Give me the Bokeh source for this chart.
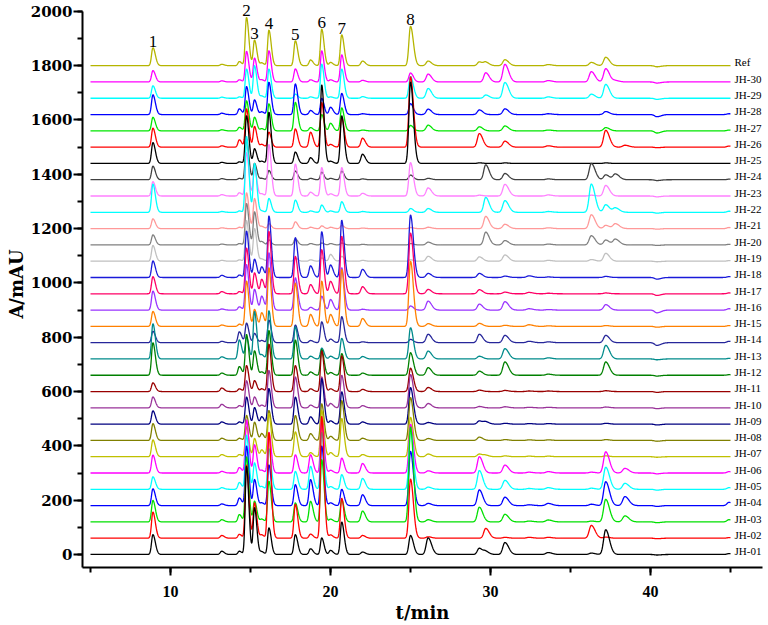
import numpy as np
from bokeh.plotting import figure
from bokeh.models import ColumnDataSource, Range1d, SingleIntervalTicker, LabelSet
from bokeh.embed import file_html
from bokeh.resources import INLINE

# ---------------- data ----------------
# retention times (min) of the peaks used to rebuild every chromatogram
peak_times = [8.9, 13.2, 14.3, 14.75, 15.25, 15.7, 16.15, 17.8, 18.75, 19.45, 20.0, 20.7, 22.0,
              25.0, 26.1, 29.3, 29.7, 30.9, 32.4, 33.6, 36.3, 37.2, 37.8, 38.4, 40.4, 44.9]
peak_widths = [0.085, 0.09, 0.085, 0.08, 0.08, 0.085, 0.08, 0.085, 0.09, 0.08, 0.09, 0.085, 0.1,
               0.1, 0.12, 0.12, 0.12, 0.13, 0.14, 0.14, 0.13, 0.13, 0.14, 0.14, 0.14, 0.12]
peak_tailing = 1.8
labelled_peak_index = [0, 3, 4, 6, 7, 9, 11, 13]
peak_numbers = ["1", "2", "3", "4", "5", "6", "7", "8"]

sample_names = ["JH-01", "JH-02", "JH-03", "JH-04", "JH-05", "JH-06", "JH-07", "JH-08", "JH-09", "JH-10",
                "JH-11", "JH-12", "JH-13", "JH-14", "JH-15", "JH-16", "JH-17", "JH-18", "JH-19", "JH-20",
                "JH-21", "JH-22", "JH-23", "JH-24", "JH-25", "JH-26", "JH-27", "JH-28", "JH-29", "JH-30", "Ref"]
offset_step = 60  # mAU between stacked traces

# peak heights (mAU) per sample, in the order of peak_times
h_jh01 = [73, 12, 12, 325, 172, 10, 98, 73, 21, 61, 15, 120, 9, 70, 61, 23, 10, 44, 0, 7, 5, 91, 0, 0, -2, 3]
h_jh02 = [96, 10, 14, 270, 130, 12, 390, 125, 15, 450, 12, 147, 10, 218, 5, 0, 36, 3, 3, 3, 47, 4, 0, 0, -2, 2]
h_jh03 = [79, 8, 27, 240, 76, 10, 150, 70, 76, 230, 10, 82, 40, 350, 8, 54, 0, 28, 3, 7, 3, 83, 0, 22, -3, 8]
h_jh04 = [62, 6, 28, 220, 96, 10, 150, 77, 96, 220, 10, 60, 40, 200, 8, 58, 0, 31, 3, 8, 5, 88, 0, 33, -3, 12]
h_jh05 = [46, 6, 25, 200, 97, 10, 150, 66, 85, 210, 10, 54, 40, 215, 8, 69, 0, 33, 3, 6, 4, 81, 0, 22, -3, 6]
h_jh06 = [66, 6, 20, 196, 104, 10, 150, 67, 67, 200, 10, 55, 35, 180, 8, 60, 0, 29, 3, 5, 3, 78, 0, 17, -3, 5]
h_jh07 = [62, 8, 8, 110, 67, 25, 160, 92, 15, 171, 15, 141, 8, 145, 10, 10, 5, 3, 2, 2, 0, 3, 0, 0, -2, 0]
h_jh08 = [62, 8, 8, 92, 67, 25, 110, 92, 25, 135, 15, 147, 8, 158, 7, 12, 0, 3, 2, 2, 0, 3, 0, 0, -3, 0]
h_jh09 = [49, 8, 8, 100, 61, 27, 131, 100, 27, 168, 12, 119, 8, 135, 6, 12, 8, 3, 2, 2, 0, 3, 0, 0, -3, 0]
h_jh10 = [40, 13, 8, 100, 40, 10, 138, 114, 10, 114, 16, 120, 8, 123, 16, 5, 0, 4, 2, 2, 0, 3, 0, 0, -3, 0]
h_jh11 = [32, 13, 10, 96, 40, 10, 175, 96, 10, 150, 10, 132, 8, 86, 15, 5, 0, 4, 2, 2, 0, 3, 0, 0, -3, 0]
h_jh12 = [120, 8, 32, 150, 90, 12, 165, 130, 12, 95, 10, 80, 8, 83, 28, 15, 0, 49, 0, 4, 0, 49, 0, 0, -3, 2]
h_jh13 = [130, 8, 70, 80, 175, 15, 178, 119, 10, 40, 10, 76, 9, 115, 29, 10, 0, 38, 0, 4, 0, 50, 0, 0, -3, 2]
h_jh14 = [42, 5, 40, 72, 34, 8, 83, 65, 8, 77, 13, 96, 3, 12, 31, 31, 0, 27, 5, 3, 0, 27, 0, 0, -10, 5]
h_jh15 = [55, 5, 8, 167, 62, 50, 216, 160, 44, 167, 44, 210, 29, 240, 10, 11, 0, 4, 6, 2, 0, 3, 0, 0, -3, 3]
h_jh16 = [70, 4, 12, 168, 76, 51, 211, 119, 10, 51, 39, 156, 3, 15, 33, 22, 0, 31, 5, 2, 0, 20, 0, 0, -10, 5]
h_jh17 = [63, 8, 8, 169, 77, 53, 230, 138, 34, 163, 46, 212, 26, 224, 16, 15, 0, 6, 5, 2, 0, 3, 0, 0, -6, 3]
h_jh18 = [61, 8, 9, 171, 67, 39, 227, 147, 43, 169, 46, 211, 30, 230, 15, 15, 0, 5, 6, 2, 0, 4, 0, 0, -6, 3]
h_jh19 = [58, 3, 5, 150, 120, 8, 15, 12, 5, 12, 25, 18, 3, 5, 18, 16, 0, 23, 0, 3, 6, 29, 0, 0, -2, 2]
h_jh20 = [37, 3, 5, 153, 122, 12, 18, 22, 5, 7, 5, 7, 2, 5, 10, 0, 47, 16, 0, 3, 34, 18, 21, 0, -2, 2]
h_jh21 = [36, 3, 5, 132, 111, 8, 18, 25, 5, 10, 5, 12, 2, 4, 5, 0, 45, 16, 0, 3, 51, 12, 18, 0, -2, 4]
h_jh22 = [104, 3, 5, 280, 180, 5, 51, 45, 5, 27, 5, 39, 3, 14, 14, 0, 55, 43, 0, 3, 104, 28, 16, 0, -3, 4]
h_jh23 = [53, 5, 12, 160, 100, 8, 190, 118, 14, 105, 8, 105, 10, 123, 30, 3, 0, 43, 0, 4, 3, 39, 0, 0, -3, 0]
h_jh24 = [50, 4, 5, 150, 60, 5, 34, 32, 5, 28, 5, 32, 3, 17, 5, 0, 55, 23, 0, 3, 60, 18, 21, 0, -3, 2]
h_jh25 = [77, 4, 6, 176, 54, 8, 189, 42, 21, 290, 8, 176, 34, 300, 0, 2, 0, 2, 0, 0, 0, 2, 0, 0, 0, 0]
h_jh26 = [70, 5, 27, 141, 76, 10, 55, 67, 55, 165, 10, 110, 33, 260, 0, 50, 0, 22, 0, 5, 0, 62, 0, 7, -2, 4]
h_jh27 = [50, 4, 13, 111, 50, 8, 100, 105, 12, 60, 28, 85, 3, 20, 21, 15, 0, 18, 0, 3, 0, 12, 0, 0, -8, 3]
h_jh28 = [73, 5, 21, 103, 54, 10, 119, 113, 15, 60, 27, 78, 3, 40, 20, 17, 0, 21, 0, 3, 0, 11, 0, 0, -8, 3]
h_jh29 = [46, 4, 5, 108, 120, 8, 108, 15, 5, 126, 5, 108, 6, 80, 36, 0, 12, 58, 0, 5, 15, 51, 0, 0, -4, 0]
h_jh30 = [42, 4, 8, 113, 88, 8, 115, 48, 8, 115, 8, 100, 6, 33, 29, 0, 34, 65, 0, 5, 38, 49, 5, 0, -4, 0]
h_ref = [66, 5, 15, 178, 94, 10, 131, 92, 21, 135, 12, 114, 17, 145, 17, 14, 12, 22, 0, 4, 12, 31, 0, 0, -4, 0]

heights = [h_jh01, h_jh02, h_jh03, h_jh04, h_jh05, h_jh06, h_jh07, h_jh08, h_jh09, h_jh10,
           h_jh11, h_jh12, h_jh13, h_jh14, h_jh15, h_jh16, h_jh17, h_jh18, h_jh19, h_jh20,
           h_jh21, h_jh22, h_jh23, h_jh24, h_jh25, h_jh26, h_jh27, h_jh28, h_jh29, h_jh30, h_ref]

colors = ["#000000", "#ff0000", "#00e000", "#0000ff", "#00ffff", "#ff00ff", "#c0c000", "#808000",
          "#000080", "#993399", "#990000", "#008000", "#008b8b", "#26269a", "#ff8000", "#9933ff",
          "#ff0066", "#1a1ad9", "#c0c0c0", "#808080", "#ff9999", "#00ffff", "#ff80ff", "#404040",
          "#000000", "#ff0000", "#00e600", "#0000ff", "#00ffff", "#ff00ff", "#b5b500"]

t_start, t_end, t_step = 5.0, 45.0, 0.02
y_axis_top = 2000

# ---------------- build chromatograms ----------------
t = np.round(np.arange(t_start, t_end + t_step / 2, t_step), 4)


def chromatogram(h):
    y = np.zeros_like(t)
    for rt, w, a in zip(peak_times, peak_widths, h):
        s = np.where(t < rt, w, w * peak_tailing)
        y += a * np.exp(-0.5 * ((t - rt) / s) ** 2)
    return y


data = {"t": t}
for i, (name, h) in enumerate(zip(sample_names, heights)):
    data[name] = chromatogram(h) + i * offset_step
src = ColumnDataSource(data)

# ---------------- figure ----------------
X0, X1 = 4.5, 47.0
Y0, Y1 = -48.0, 2040.0
W, H = 768, 625
BL, BR, BT, BB = 82, 6, 0, 57

p = figure(width=W, height=H, x_range=Range1d(X0, X1), y_range=Range1d(Y0, Y1),
           output_backend="svg", toolbar_location=None,
           min_border_left=BL, min_border_right=BR, min_border_top=BT, min_border_bottom=BB)
p.outline_line_color = None
p.xgrid.visible = False
p.ygrid.visible = False
p.background_fill_color = "white"

for i in reversed(range(len(sample_names))):
    p.line("t", sample_names[i], source=src, line_color=colors[i], line_width=1.3)

# axes
p.xaxis.ticker = SingleIntervalTicker(interval=10, num_minor_ticks=2)
p.yaxis.ticker = SingleIntervalTicker(interval=200, num_minor_ticks=2)
p.yaxis.bounds = (Y0, y_axis_top)
for ax in (p.xaxis[0], p.yaxis[0]):
    ax.axis_line_width = 2
    ax.major_tick_line_width = 2
    ax.minor_tick_line_width = 2
    ax.major_tick_in = 0
    ax.minor_tick_in = 0
    ax.minor_tick_out = 5
    ax.major_label_text_font_style = "bold"
    ax.major_label_text_color = "black"
    ax.axis_label_text_font = "DejaVu Serif"
    ax.axis_label_text_font_style = "bold"
    ax.axis_label_text_font_size = "18px"
    ax.axis_label_text_color = "black"
p.xaxis.major_tick_out = 8
p.yaxis.major_tick_out = 9
p.xaxis.major_label_text_font = "Liberation Serif"
p.xaxis.major_label_text_font_size = "16px"
p.xaxis.major_label_standoff = 10
p.yaxis.major_label_text_font = "DejaVu Serif"
p.yaxis.major_label_text_font_size = "15px"
p.yaxis.major_label_standoff = 1
p.xaxis.axis_label = "t/min"
p.xaxis.axis_label_standoff = 2
p.yaxis.axis_label = "A/mAU"
p.yaxis.axis_label_standoff = 1

# sample names at the right end of each trace
name_src = ColumnDataSource(dict(
    x=[45.25] * len(sample_names),
    y=[i * offset_step + 12 for i in range(len(sample_names))],
    text=sample_names))
p.add_layout(LabelSet(x="x", y="y", text="text", source=name_src, text_font="DejaVu Serif",
                      text_font_size="11px", text_baseline="middle", text_align="left",
                      text_color="black"))

# peak numbers above the reference trace
ref_i = len(sample_names) - 1
pk_src = ColumnDataSource(dict(
    x=[peak_times[k] for k in labelled_peak_index],
    y=[ref_i * offset_step + h_ref[k] + 4 for k in labelled_peak_index],
    text=peak_numbers))
p.add_layout(LabelSet(x="x", y="y", text="text", source=pk_src, text_font="Liberation Serif",
                      text_font_size="17px", text_baseline="bottom", text_align="center",
                      text_color="black"))

open("out.html", "w").write(file_html(p, INLINE))
